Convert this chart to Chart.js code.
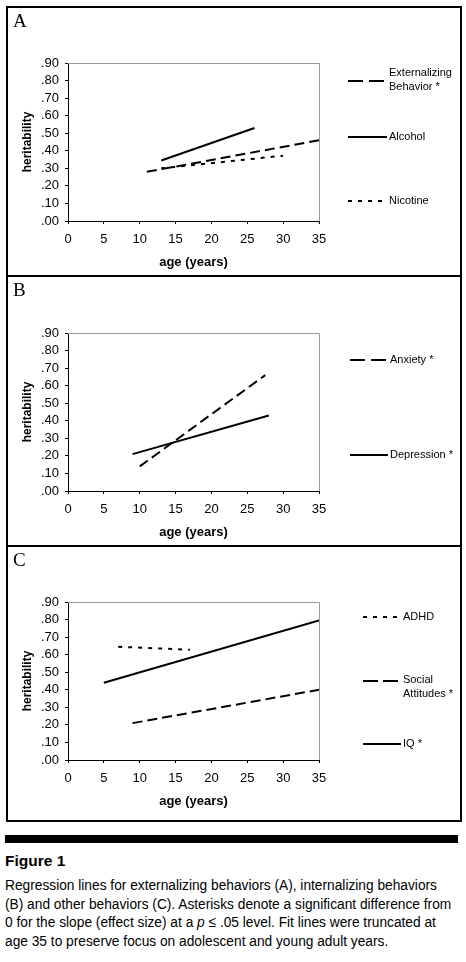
<!DOCTYPE html>
<html>
<head>
<meta charset="utf-8">
<script src="https://cdn.jsdelivr.net/npm/chart.js@4.4.0/dist/chart.umd.min.js"></script>
<style>
body{margin:0;background:#fff;width:466px;height:962px;position:relative;overflow:hidden;font-family:"Liberation Sans",Arial,sans-serif}
.panel{position:absolute;left:6px;width:456px;box-sizing:border-box;border:2px solid #000}
.panel canvas{position:absolute;left:0;top:0}
.letter{position:absolute;left:5px;top:3px;font:19px/19px "Liberation Serif","Times New Roman",serif}
#bar{position:absolute;left:5px;top:835px;width:453px;height:8px;background:#000}
#fig{position:absolute;left:5px;top:851px;font:bold 15.5px/20px "Liberation Sans",Arial,sans-serif}
#cap{position:absolute;left:5px;top:876px;font:15.5px/18.7px "Liberation Sans Narrow","Liberation Sans",Arial,sans-serif;white-space:nowrap;transform-origin:0 0}
</style>
</head>
<body>
<div class="panel" style="top:6px;height:271px"><canvas id="chartA" width="452" height="267"></canvas><div class="letter">A</div></div>
<div class="panel" style="top:275px;height:272px"><canvas id="chartB" width="452" height="268"></canvas><div class="letter">B</div></div>
<div class="panel" style="top:545px;height:277px"><canvas id="chartC" width="452" height="273"></canvas><div class="letter">C</div></div>
<div id="bar"></div>
<div id="fig">Figure 1</div>
<div id="cap"><span id="cap1">Regression lines for externalizing behaviors (A), internalizing behaviors</span><br>(B) and other behaviors (C). Asterisks denote a significant difference from<br>0 for the slope (effect size) at a <i>p</i> ≤ .05 level. Fit lines were truncated at<br>age 35 to preserve focus on adolescent and young adult years.</div>
<script>
// panel A - externalizing
var ext_age = [11, 35]
var ext_h = [0.28, 0.46]
var alc_age = [13, 26]
var alc_h = [0.345, 0.53]
var nic_age = [13, 30]
var nic_h = [0.30, 0.372]
// panel B - internalizing
var anx_age = [10, 27.5]
var anx_h = [0.14, 0.66]
var dep_age = [9, 28]
var dep_h = [0.21, 0.43]
// panel C - other
var adhd_age = [7, 17]
var adhd_h = [0.645, 0.628]
var soc_age = [9, 35]
var soc_h = [0.21, 0.40]
var iq_age = [5, 35]
var iq_h = [0.44, 0.795]

var x_ticks = [0, 35, 5]      // min, max, step
var y_ticks = [0, 0.9, 0.1]

var DASH = [10, 5]
var DOT = [4, 6]

// squeeze the caption to the narrow width of the original
var cap = document.getElementById('cap')
var w1 = document.getElementById('cap1').getBoundingClientRect().width
cap.style.transform = 'scaleX(' + (432 / w1) + ')'

function pts(ages, vals){
    return ages.map(function(a, i){ return {x: a, y: vals[i]} })
}

function line(ages, vals, dash){
    return {
        data: pts(ages, vals),
        borderColor: '#000',
        borderWidth: 2,
        borderDash: dash,
        pointRadius: 0,
        fill: false,
        tension: 0
    }
}

// gray top/right frame + the side key
var sidePlugin = {
    id: 'side',
    beforeDatasetsDraw: function(chart){
        var ctx = chart.ctx, a = chart.chartArea
        ctx.save()
        ctx.strokeStyle = '#9a9a9a'
        ctx.lineWidth = 1
        ctx.beginPath()
        ctx.moveTo(a.left, a.top + 0.5)
        ctx.lineTo(a.right + 0.5, a.top + 0.5)
        ctx.lineTo(a.right + 0.5, a.bottom)
        ctx.stroke()
        ctx.restore()
    },
    afterDraw: function(chart, args, opts){
        var ctx = chart.ctx
        ctx.save()
        opts.items.forEach(function(it){
            ctx.strokeStyle = '#000'
            ctx.lineWidth = 2
            ctx.setLineDash(it.dash)
            ctx.beginPath()
            ctx.moveTo(opts.x1, it.ly)
            ctx.lineTo(opts.x2, it.ly)
            ctx.stroke()
            ctx.setLineDash([])
            ctx.fillStyle = '#000'
            ctx.font = '11px "Liberation Sans", Arial, sans-serif'
            ctx.textBaseline = 'middle'
            it.text.forEach(function(t, k){
                ctx.fillText(t, opts.tx, it.ty + k * 14)
            })
        })
        ctx.restore()
    }
}

function make_panel(el, datasets, legend, area_top){
    var cv = document.getElementById(el)
    var h = cv.height
    return new Chart(cv, {
        type: 'line',
        data: {datasets: datasets},
        plugins: [sidePlugin],
        options: {
            responsive: false,
            animation: false,
            layout: {padding: {top: area_top, left: 8, right: 141, bottom: h - area_top - 158 - 54}},
            scales: {
                x: {
                    type: 'linear',
                    min: x_ticks[0], max: x_ticks[1],
                    ticks: {stepSize: x_ticks[2], color: '#000', padding: 8, maxRotation: 0, autoSkip: false,
                        font: {family: '"Liberation Sans", Arial, sans-serif', size: 13}},
                    grid: {drawOnChartArea: false, color: '#000', tickLength: 3},
                    border: {color: '#000', width: 1},
                    title: {display: true, text: 'age (years)', color: '#000',
                        font: {family: '"Liberation Sans", Arial, sans-serif', size: 13, weight: 'bold'},
                        padding: {top: 0, bottom: 5}},
                    afterFit: function(s){ s.height = 54 }
                },
                y: {
                    min: y_ticks[0], max: y_ticks[1],
                    ticks: {stepSize: y_ticks[2], color: '#000', padding: 6, autoSkip: false,
                        font: {family: '"Liberation Sans", Arial, sans-serif', size: 13},
                        callback: function(v){ return v.toFixed(2).slice(1) }},
                    grid: {drawOnChartArea: false, color: '#000', tickLength: 3},
                    border: {color: '#000', width: 1},
                    title: {display: true, text: 'heritability', color: '#000',
                        font: {family: '"Liberation Sans", Arial, sans-serif', size: 12, weight: 'bold'},
                        padding: {top: 4, bottom: 0}},
                    afterFit: function(s){ s.width = 52 }
                }
            },
            plugins: {
                legend: {display: false},
                tooltip: {enabled: false},
                side: legend
            }
        }
    })
}

make_panel('chartA', [
    line(ext_age, ext_h, DASH),
    line(alc_age, alc_h, []),
    line(nic_age, nic_h, DOT)
], {x1: 340, x2: 379, tx: 381, items: [
    {text: ['Externalizing', 'Behavior *'], dash: [15, 6], ly: 73, ty: 65},
    {text: ['Alcohol'], dash: [], ly: 129, ty: 129},
    {text: ['Nicotine'], dash: DOT, ly: 193, ty: 193}
]}, 55)

make_panel('chartB', [
    line(anx_age, anx_h, DASH),
    line(dep_age, dep_h, [])
], {x1: 342, x2: 380, tx: 382, items: [
    {text: ['Anxiety *'], dash: [15, 6], ly: 83, ty: 83},
    {text: ['Depression *'], dash: [], ly: 178, ty: 178}
]}, 56)

make_panel('chartC', [
    line(adhd_age, adhd_h, DOT),
    line(soc_age, soc_h, DASH),
    line(iq_age, iq_h, [])
], {x1: 355, x2: 393, tx: 395, items: [
    {text: ['ADHD'], dash: DOT, ly: 70, ty: 70},
    {text: ['Social', 'Attitudes *'], dash: [15, 5], ly: 134, ty: 133},
    {text: ['IQ *'], dash: [], ly: 197, ty: 197}
]}, 55)
</script>
</body>
</html>
